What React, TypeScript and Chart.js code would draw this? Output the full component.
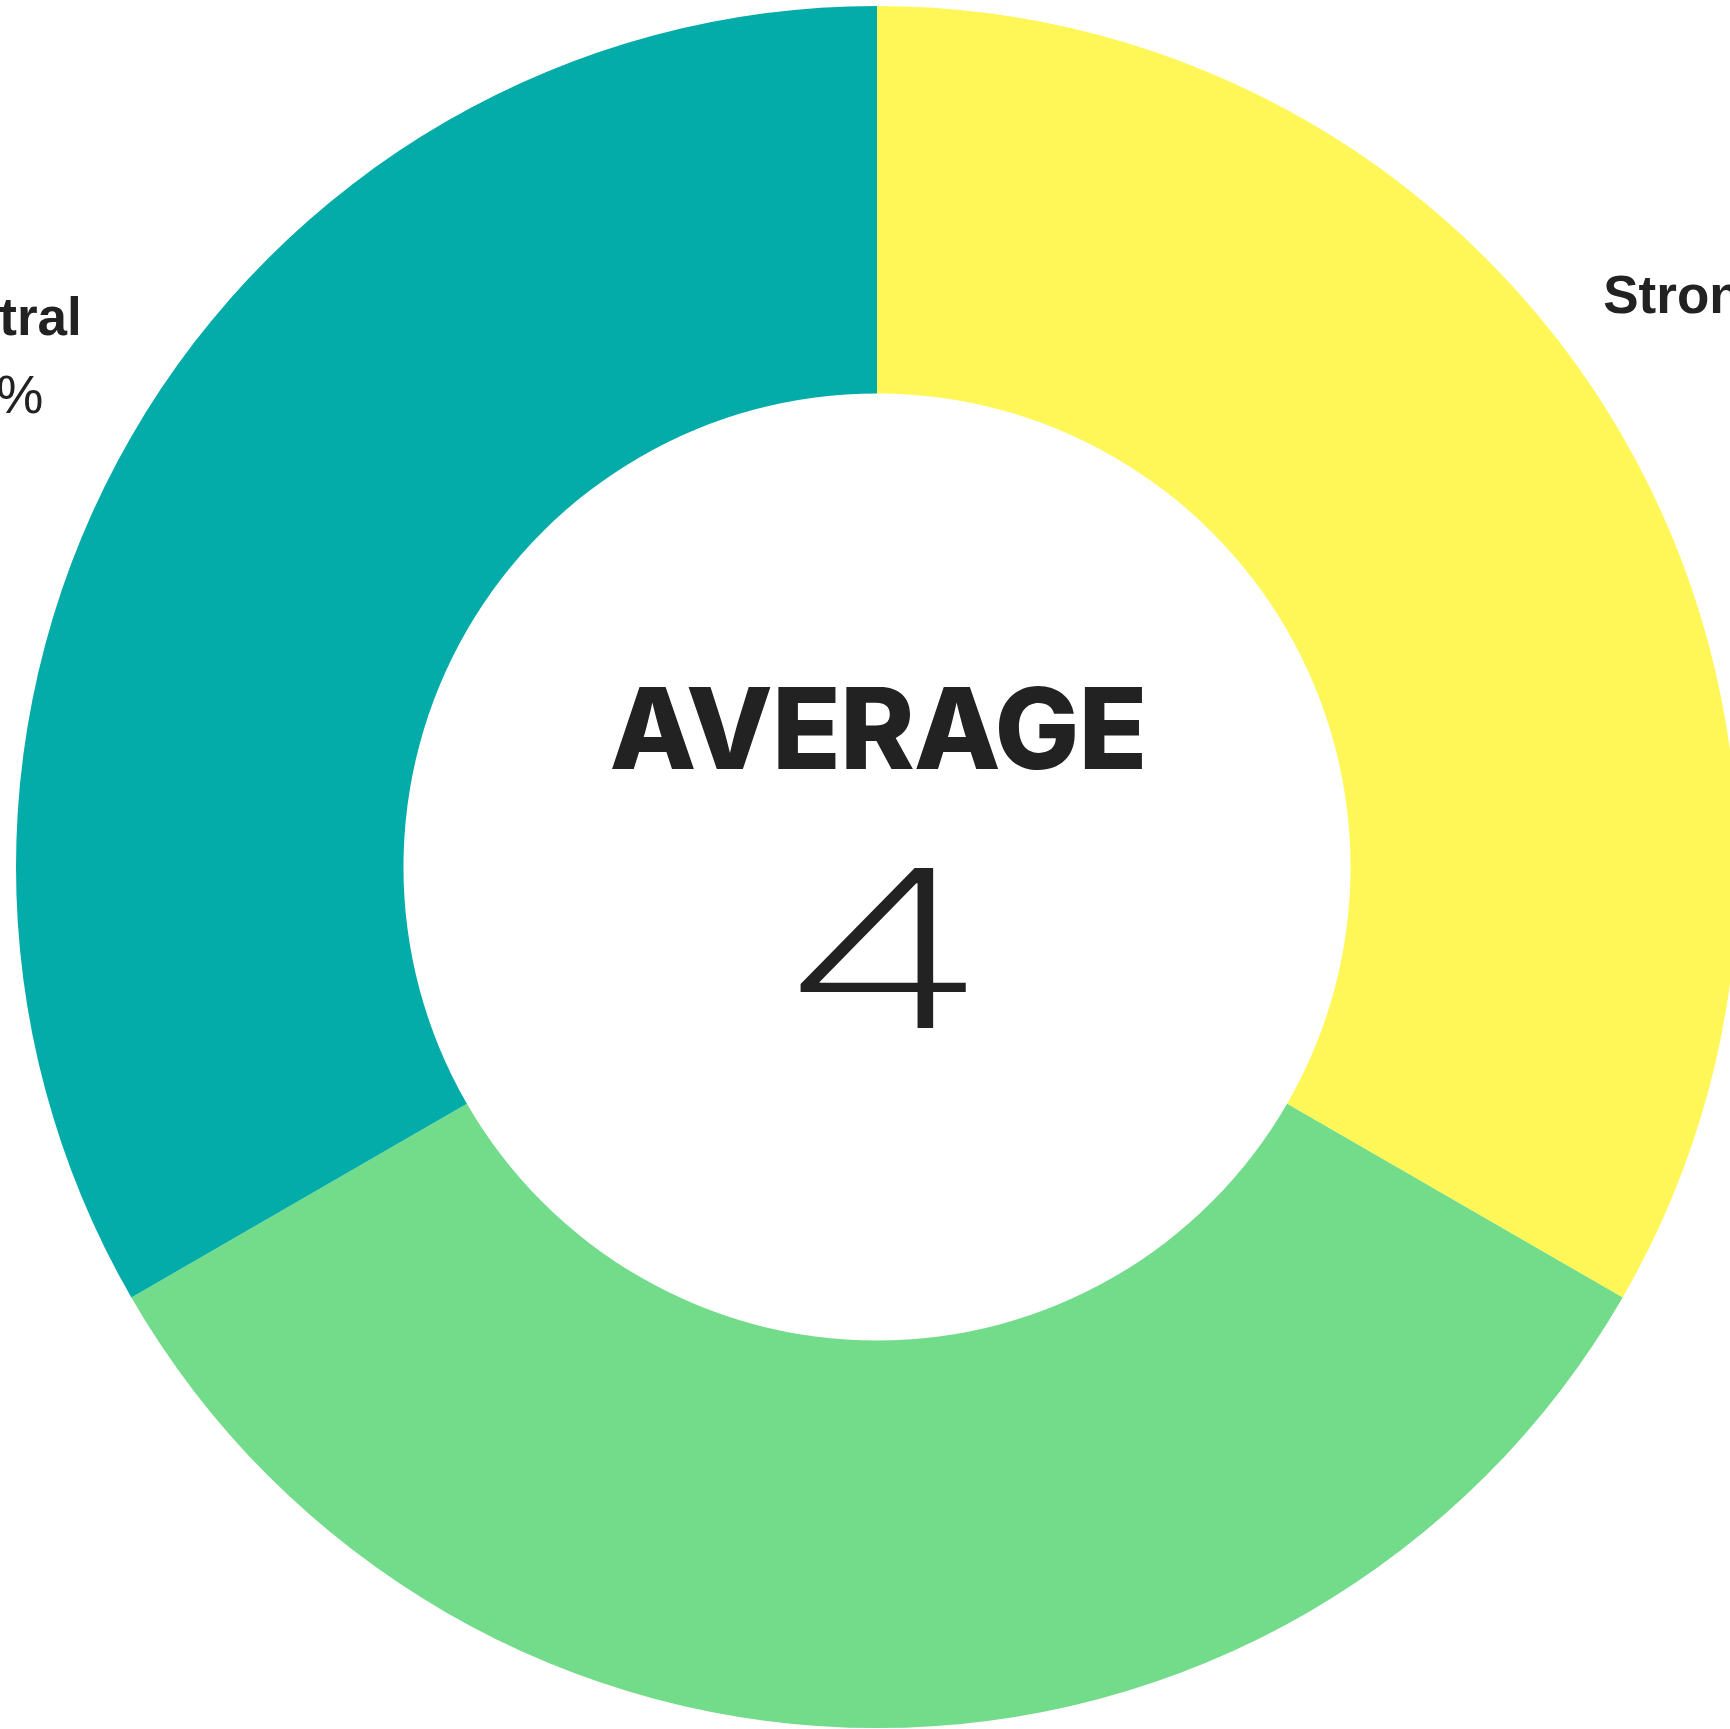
import React, { useEffect, useRef } from "react";
import { Chart, registerables } from "chart.js";

Chart.register(...registerables);

const categories = ["Strongly agree", "Agree", "Neutral"];
const counts = [1, 1, 1];
const colors = ["#FFF757", "#72DC8A", "#03ACA8"];
const averageTitle = "AVERAGE";
const averageValue = "4";

const TEXT = "#222222";

const labelPlugin = {
  id: "outerLabels",
  afterDatasetsDraw(chart: any) {
    const ctx = chart.ctx;
    const meta = chart.getDatasetMeta(0);
    const total = counts.reduce((a, b) => a + b, 0);
    meta.data.forEach((arc: any, i: number) => {
      const p = arc.getProps(["x", "y", "outerRadius", "startAngle", "endAngle"], true);
      const mid = (p.startAngle + p.endAngle) / 2;
      const cos = Math.cos(mid);
      const sin = Math.sin(mid);
      const r = p.outerRadius;
      const name = categories[i];
      const pct = Math.round((counts[i] / total) * 100) + "%";
      ctx.save();
      ctx.fillStyle = TEXT;
      ctx.textBaseline = "alphabetic";
      ctx.font = "bold 53px 'Liberation Sans', Arial, sans-serif";
      const w = ctx.measureText(name).width;
      let centerX: number;
      let baseY: number;
      if (cos > 0.01) {
        const left = p.x + cos * 0.974 * r;
        centerX = left + w / 2;
        baseY = p.y + sin * 1.287 * r;
      } else if (cos < -0.01) {
        centerX = p.x + cos * 1.189 * r;
        baseY = p.y + sin * 1.236 * r;
      } else {
        centerX = p.x;
        baseY = p.y + sin * 1.2 * r;
      }
      ctx.textAlign = "center";
      ctx.fillText(name, centerX, baseY);
      ctx.font = "53px 'Liberation Sans', Arial, sans-serif";
      ctx.fillText(pct, centerX, baseY + 78);
      ctx.restore();
    });
  },
  afterDraw(chart: any) {
    const ctx = chart.ctx;
    const arc: any = chart.getDatasetMeta(0).data[0];
    if (!arc) return;
    const cx = arc.x;
    const cy = arc.y;
    ctx.save();
    ctx.fillStyle = TEXT;
    ctx.textAlign = "center";
    ctx.textBaseline = "alphabetic";
    ctx.font = "800 113px Inter, 'DejaVu Sans', sans-serif";
    try {
      (ctx as any).letterSpacing = "-1px";
    } catch (e) {}
    ctx.fillText(averageTitle, cx + 1, cy - 98);
    try {
      (ctx as any).letterSpacing = "0px";
    } catch (e) {}
    ctx.font = "200 220px Inter, 'DejaVu Sans', sans-serif";
    ctx.translate(cx + 6, cy + 161);
    ctx.scale(1.58, 1);
    ctx.fillText(averageValue, 0, 0);
    ctx.restore();
  },
};

export default function App() {
  const ref = useRef<HTMLCanvasElement | null>(null);
  useEffect(() => {
    if (!ref.current) return;
    const chart = new Chart(ref.current, {
      type: "doughnut",
      data: {
        labels: categories,
        datasets: [
          {
            data: counts,
            backgroundColor: colors,
            borderWidth: 0,
            hoverOffset: 0,
            offset: 0,
          } as any,
        ],
      },
      options: {
        animation: false,
        responsive: false,
        cutout: "55%",
        spacing: 0,
        events: [],
        layout: { padding: 6 },
        plugins: {
          legend: { display: false },
          tooltip: { enabled: false },
        },
      } as any,
      plugins: [labelPlugin],
    });
    return () => chart.destroy();
  }, []);
  return (
    <div
      style={{
        position: "fixed",
        left: 0,
        top: 0,
        width: 1730,
        height: 1729,
        overflow: "hidden",
        background: "#ffffff",
      }}
    >
      <canvas ref={ref} width={1754} height={1734} style={{ width: 1754, height: 1734, display: "block" }} />
    </div>
  );
}
